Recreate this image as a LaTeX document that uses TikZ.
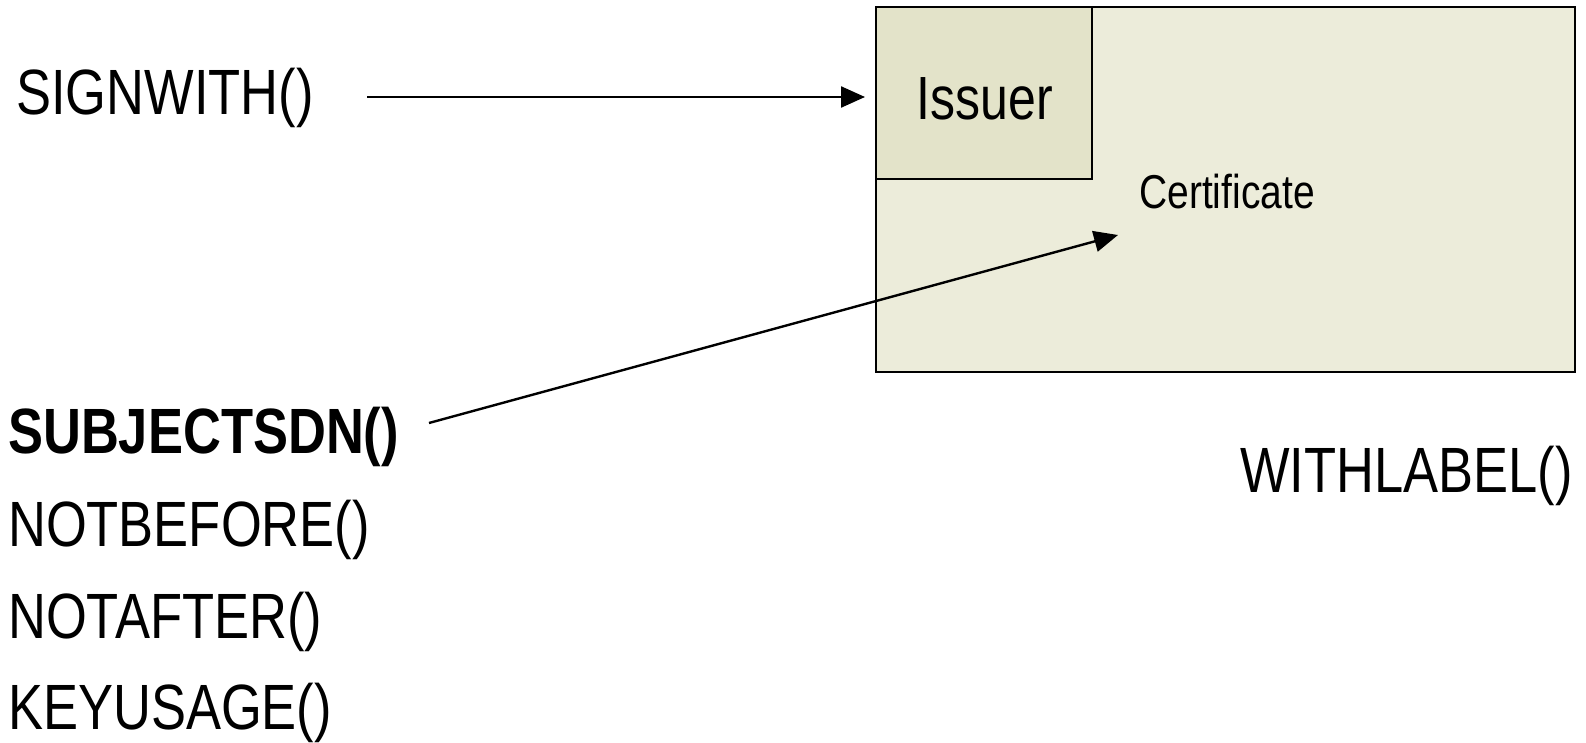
\documentclass[tikz,border=0pt]{standalone}
\usepackage{fontspec}
\setmainfont[FakeStretch=0.82]{Liberation Sans}
\usetikzlibrary{arrows.meta}
\definecolor{certfill}{RGB}{236,236,218}
\definecolor{issuerfill}{RGB}{227,227,201}
\tikzset{
  method/.style={inner sep=0pt, anchor=base west, font=\fontsize{64}{64}\selectfont},
  box/.style={draw=black, line width=2.3pt, inner sep=0pt},
  link/.style={line width=2.4pt, -{Triangle[length=24pt,width=21pt]}},
}
\begin{document}
\begin{tikzpicture}[x=1pt, y=-1pt]
  \useasboundingbox (0,0) rectangle (1586,743);

  % certificate and its issuer field
  \draw[box, fill=certfill] (876,7) rectangle (1575,372);
  \draw[box, fill=issuerfill] (876,7) rectangle (1092,179);
  \node[inner sep=0pt, font=\fontsize{61}{61}\selectfont] (issuerlbl) at (985,99) {Issuer};
  \node[inner sep=0pt, font=\fontsize{47.5}{47.5}\selectfont] (certlbl) at (1227,192) {Certificate};

  % builder methods
  \node[method] (signwith) at (16,115) {SIGNWITH()};
  \node[method, font=\fontsize{64}{64}\selectfont\bfseries] (subject) at (8,453) {SUBJECTSDN()};
  \node[method] (notbefore) at (8,546) {NOTBEFORE()};
  \node[method] (notafter) at (8,638) {NOTAFTER()};
  \node[method] (keyusage) at (8,729) {KEYUSAGE()};
  \node[inner sep=0pt, anchor=base east, font=\fontsize{64}{64}\selectfont] (withlabel) at (1573,492) {WITHLABEL()};

  % connectors
  \coordinate (signend) at (367,97);
  \coordinate (issuerin) at (865,97);
  \coordinate (subjend) at (429,423);
  \coordinate (certin) at (1118,235);
  \draw[link] (signend) -- (issuerin);
  \draw[link] (subjend) -- (certin);
\end{tikzpicture}
\end{document}
